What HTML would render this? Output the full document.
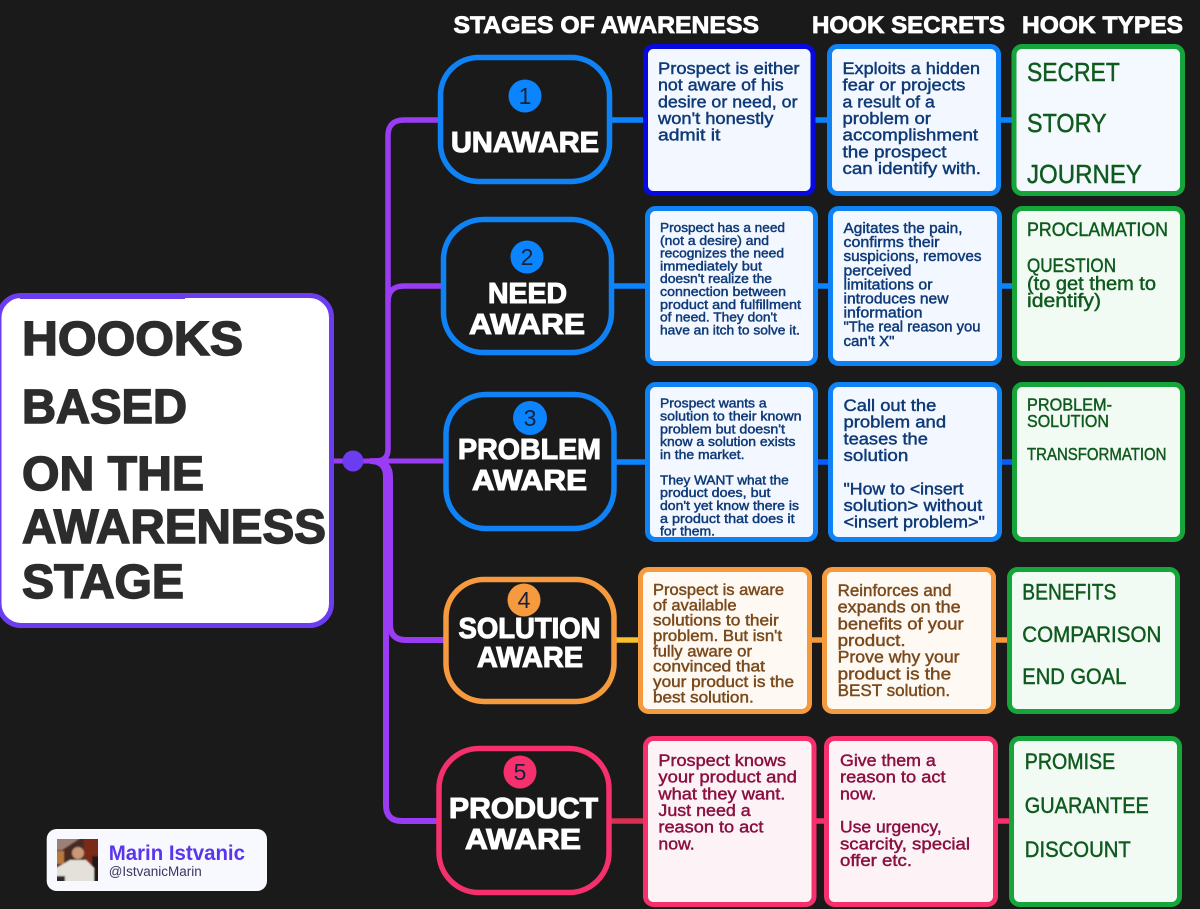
<!DOCTYPE html>
<html lang="en"><head><meta charset="utf-8"><title>Hooks based on the awareness stage</title>
<style>
html,body{margin:0;padding:0;background:#1a1a1a}
svg{display:block}
text{font-family:"Liberation Sans",sans-serif;white-space:pre}
.h{font-weight:700;fill:#fff;font-size:24px;stroke:#fff;stroke-width:.8}
.s{font-weight:700;fill:#fff;font-size:29px;stroke:#fff;stroke-width:1.1}
.m{font-weight:700;fill:#2c2c2c;font-size:48px;stroke:#2c2c2c;stroke-width:1.5}
.n{fill:#16233a;font-size:23px;text-anchor:middle}
.b{fill:#0e3a78;stroke:#0e3a78;stroke-width:.45}
.g{fill:#0f5a1e;stroke:#0f5a1e;stroke-width:.45}
.o{fill:#7a4a1c;stroke:#7a4a1c;stroke-width:.45}
.r{fill:#8a1040;stroke:#8a1040;stroke-width:.45}
.t16{font-size:17px}.t12{font-size:13px}.t14{font-size:14.8px}.t15{font-size:15.8px}
.t25{font-size:26px}.t18{font-size:19px}.t17{font-size:17.5px}.t21{font-size:22px}
</style></head><body>
<svg width="1200" height="909" viewBox="0 0 1200 909" xmlns="http://www.w3.org/2000/svg">
<defs><filter id="bl"><feGaussianBlur stdDeviation="0.8"/></filter><clipPath id="ph"><rect x="57" y="839" width="41" height="42"/></clipPath></defs>
<rect width="1200" height="909" fill="#1a1a1a"/>

<!-- trunk connectors -->
<g fill="none" stroke="#9b3cf5" stroke-width="6">
<path d="M334 461H445" stroke-width="5"/>
<path d="M376 461Q388 461 388 449V136Q388 120 404 120H440" stroke-width="5.5"/>
<path d="M388 302Q388 286 404 286H443" stroke-width="5.5"/>
<path d="M370 461Q386 461 386 477V805Q386 821 402 821H438"/>
<path d="M374 461Q390 461 390 477V624Q390 640 406 640H445"/>
</g>
<circle cx="353" cy="461" r="10.5" fill="#6c3cf0"/>

<!-- row connectors -->
<g stroke-width="5.500" fill="none">
<path d="M611 120H645M815 120H829M1000 120H1014" stroke="#0a84ff"/>
<path d="M612 286H647M816 286H830M1000 286H1014" stroke="#0a84ff"/>
<path d="M615 462H647" stroke="#0a84ff"/>
<path d="M816 462H830M1000 462H1014" stroke="#0a5cff"/>
<path d="M615 640H640" stroke="#f5c02a"/>
<path d="M810 640H824M994 640H1009" stroke="#f59a3e"/>
<path d="M610 821H645" stroke="#d83050"/>
<path d="M815 821H826M996 821H1011" stroke="#f5306c"/>
</g>

<!-- main box -->
<rect x="-1" y="295.500" width="332.500" height="330" rx="22" fill="#fff" stroke="#6c3cf0" stroke-width="5"/>
<rect x="20" y="293" width="165" height="6" fill="#6c3cf0"/>
<text class="m" x="22" y="355" textLength="221" lengthAdjust="spacingAndGlyphs">HOOOKS</text>
<text class="m" x="22" y="423" textLength="165" lengthAdjust="spacingAndGlyphs">BASED</text>
<text class="m" x="22" y="490" textLength="182" lengthAdjust="spacingAndGlyphs">ON THE</text>
<text class="m" x="22" y="543" textLength="304" lengthAdjust="spacingAndGlyphs">AWARENESS</text>
<text class="m" x="22" y="598" textLength="162" lengthAdjust="spacingAndGlyphs">STAGE</text>

<!-- headers -->
<text class="h" x="453.500" y="33" textLength="305.500" lengthAdjust="spacingAndGlyphs">STAGES OF AWARENESS</text>
<text class="h" x="812" y="33" textLength="193" lengthAdjust="spacingAndGlyphs">HOOK SECRETS</text>
<text class="h" x="1022" y="33" textLength="161" lengthAdjust="spacingAndGlyphs">HOOK TYPES</text>

<!-- stage boxes -->
<g fill="#1a1a1a" stroke-width="5.500">
<rect x="440.500" y="57.500" width="169" height="124" rx="38" stroke="#0f82f5"/>
<rect x="443.500" y="219.500" width="168" height="133" rx="40" stroke="#0f82f5"/>
<rect x="446" y="394.500" width="168" height="134" rx="40" stroke="#0f82f5"/>
<rect x="446" y="579.500" width="168" height="122" rx="38" stroke="#f59a3e"/>
<rect x="439" y="748.500" width="170" height="144" rx="40" stroke="#f5306c"/>
</g>
<circle cx="525" cy="96" r="16.500" fill="#0a84ff"/><text class="n" x="525" y="104">1</text>
<circle cx="527" cy="257" r="16.500" fill="#0a84ff"/><text class="n" x="527" y="265">2</text>
<circle cx="530" cy="418" r="17" fill="#0a84ff"/><text class="n" x="530" y="426">3</text>
<circle cx="524" cy="600" r="16.500" fill="#f59a3e"/><text class="n" x="524" y="608">4</text>
<circle cx="520" cy="772" r="16.500" fill="#f5306c"/><text class="n" x="520" y="780">5</text>

<text class="s" x="451" y="152" textLength="148" lengthAdjust="spacingAndGlyphs">UNAWARE</text>
<text class="s" x="488" y="303" textLength="79" lengthAdjust="spacingAndGlyphs">NEED</text>
<text class="s" x="469" y="334" textLength="116" lengthAdjust="spacingAndGlyphs">AWARE</text>
<text class="s" x="458" y="459" textLength="143" lengthAdjust="spacingAndGlyphs">PROBLEM</text>
<text class="s" x="472" y="490" textLength="115" lengthAdjust="spacingAndGlyphs">AWARE</text>
<text class="s" x="458.500" y="638" textLength="142" lengthAdjust="spacingAndGlyphs">SOLUTION</text>
<text class="s" x="477" y="667" textLength="106" lengthAdjust="spacingAndGlyphs">AWARE</text>
<text class="s" x="449" y="818" textLength="149" lengthAdjust="spacingAndGlyphs">PRODUCT</text>
<text class="s" x="465" y="849" textLength="116" lengthAdjust="spacingAndGlyphs">AWARE</text>

<!-- detail / secret / type boxes -->
<g stroke-width="5">
<rect x="645.500" y="46.500" width="167.500" height="147" rx="8" fill="#f3f7ff" stroke="#0808e0"/>
<rect x="829.500" y="46.500" width="169" height="147" rx="8" fill="#f3f7ff" stroke="#0f82f5"/>
<rect x="1014" y="46.500" width="168.500" height="147" rx="8" fill="#f3f9ff" stroke="#16a53a"/>

<rect x="647.500" y="208.500" width="168" height="155" rx="8" fill="#f3f7ff" stroke="#0f82f5"/>
<rect x="830.500" y="208.500" width="169" height="155" rx="8" fill="#f3f7ff" stroke="#0f82f5"/>
<rect x="1014.500" y="208.500" width="168" height="155" rx="8" fill="#f2fbf3" stroke="#16a53a"/>

<rect x="647.500" y="384.500" width="168" height="155" rx="8" fill="#f3f7ff" stroke="#0f82f5"/>
<rect x="830.500" y="384.500" width="169" height="155" rx="8" fill="#f3f7ff" stroke="#0f82f5"/>
<rect x="1014.500" y="384.500" width="168" height="155" rx="8" fill="#f2fbf3" stroke="#16a53a"/>

<rect x="640.500" y="569.500" width="169" height="142" rx="8" fill="#fff9f3" stroke="#f59a3e"/>
<rect x="824.500" y="569.500" width="169" height="142" rx="8" fill="#fff9f3" stroke="#f59a3e"/>
<rect x="1009.500" y="569.500" width="168" height="142" rx="8" fill="#f2fbf3" stroke="#16a53a"/>

<rect x="645.500" y="738.500" width="168.500" height="166" rx="8" fill="#fdf3f7" stroke="#f5306c"/>
<rect x="826.500" y="738.500" width="169" height="166" rx="8" fill="#fdf3f7" stroke="#f5306c"/>
<rect x="1011.500" y="738.500" width="168" height="166" rx="8" fill="#f2fbf3" stroke="#16a53a"/>
</g>

<!-- row 1 -->
<g class="b t16">
<text x="658" y="74" textLength="141.500" lengthAdjust="spacingAndGlyphs">Prospect is either</text>
<text x="658" y="90.700" textLength="125.700" lengthAdjust="spacingAndGlyphs">not aware of his</text>
<text x="658" y="107.300" textLength="139.500" lengthAdjust="spacingAndGlyphs">desire or need, or</text>
<text x="658" y="124" textLength="115.400" lengthAdjust="spacingAndGlyphs">won't honestly</text>
<text x="658" y="140.700" textLength="62.400" lengthAdjust="spacingAndGlyphs">admit it</text>
<text x="842.500" y="74" textLength="137.500" lengthAdjust="spacingAndGlyphs">Exploits a hidden</text>
<text x="842.500" y="90.700" textLength="122.800" lengthAdjust="spacingAndGlyphs">fear or projects</text>
<text x="842.500" y="107.300" textLength="92.300" lengthAdjust="spacingAndGlyphs">a result of a</text>
<text x="842.500" y="124" textLength="88.400" lengthAdjust="spacingAndGlyphs">problem or</text>
<text x="842.500" y="140.700" textLength="135.600" lengthAdjust="spacingAndGlyphs">accomplishment</text>
<text x="842.500" y="157.300" textLength="104" lengthAdjust="spacingAndGlyphs">the prospect</text>
<text x="842.500" y="174" textLength="138.500" lengthAdjust="spacingAndGlyphs">can identify with.</text>
</g>
<g class="g t25">
<text x="1027" y="81" textLength="92.800" lengthAdjust="spacingAndGlyphs">SECRET</text>
<text x="1027" y="132" textLength="79.600" lengthAdjust="spacingAndGlyphs">STORY</text>
<text x="1027" y="183" textLength="115" lengthAdjust="spacingAndGlyphs">JOURNEY</text>
</g>

<!-- row 2 -->
<g class="b t12">
<text x="660" y="232" textLength="125" lengthAdjust="spacingAndGlyphs">Prospect has a need</text>
<text x="660" y="244.800" textLength="109" lengthAdjust="spacingAndGlyphs">(not a desire) and</text>
<text x="660" y="257.600" textLength="124" lengthAdjust="spacingAndGlyphs">recognizes the need</text>
<text x="660" y="270.400" textLength="102" lengthAdjust="spacingAndGlyphs">immediately but</text>
<text x="660" y="283.200" textLength="112" lengthAdjust="spacingAndGlyphs">doesn't realize the</text>
<text x="660" y="296" textLength="126" lengthAdjust="spacingAndGlyphs">connection between</text>
<text x="660" y="308.800" textLength="141" lengthAdjust="spacingAndGlyphs">product and fulfillment</text>
<text x="660" y="321.600" textLength="117" lengthAdjust="spacingAndGlyphs">of need. They don't</text>
<text x="660" y="334.400" textLength="140" lengthAdjust="spacingAndGlyphs">have an itch to solve it.</text>
</g>
<g class="b t14">
<text x="843.500" y="233" textLength="119" lengthAdjust="spacingAndGlyphs">Agitates the pain,</text>
<text x="843.500" y="247.100" textLength="96" lengthAdjust="spacingAndGlyphs">confirms their</text>
<text x="843.500" y="261.200" textLength="138" lengthAdjust="spacingAndGlyphs">suspicions, removes</text>
<text x="843.500" y="275.300" textLength="68" lengthAdjust="spacingAndGlyphs">perceived</text>
<text x="843.500" y="289.400" textLength="89" lengthAdjust="spacingAndGlyphs">limitations or</text>
<text x="843.500" y="303.500" textLength="105" lengthAdjust="spacingAndGlyphs">introduces new</text>
<text x="843.500" y="317.600" textLength="79" lengthAdjust="spacingAndGlyphs">information</text>
<text x="843.500" y="331.700" textLength="137" lengthAdjust="spacingAndGlyphs">"The real reason you</text>
<text x="843.500" y="345.800" textLength="51" lengthAdjust="spacingAndGlyphs">can't X"</text>
</g>
<g class="g t18">
<text x="1027" y="236" textLength="141" lengthAdjust="spacingAndGlyphs">PROCLAMATION</text>
<text x="1027" y="272" textLength="89" lengthAdjust="spacingAndGlyphs">QUESTION</text>
<text x="1027" y="290" textLength="129" lengthAdjust="spacingAndGlyphs">(to get them to</text>
<text x="1027" y="307" textLength="74" lengthAdjust="spacingAndGlyphs">identify)</text>
</g>

<!-- row 3 -->
<g class="b t12">
<text x="660" y="407.700" textLength="106.600" lengthAdjust="spacingAndGlyphs">Prospect wants a</text>
<text x="660" y="420.500" textLength="141.500" lengthAdjust="spacingAndGlyphs">solution to their known</text>
<text x="660" y="433.300" textLength="125" lengthAdjust="spacingAndGlyphs">problem but doesn't</text>
<text x="660" y="446" textLength="135.500" lengthAdjust="spacingAndGlyphs">know a solution exists</text>
<text x="660" y="458.800" textLength="84.500" lengthAdjust="spacingAndGlyphs">in the market.</text>
<text x="660" y="484.400" textLength="128.700" lengthAdjust="spacingAndGlyphs">They WANT what the</text>
<text x="660" y="497.200" textLength="110.500" lengthAdjust="spacingAndGlyphs">product does, but</text>
<text x="660" y="510" textLength="139" lengthAdjust="spacingAndGlyphs">don't yet know there is</text>
<text x="660" y="522.800" textLength="134.600" lengthAdjust="spacingAndGlyphs">a product that does it</text>
<text x="660" y="535.600" textLength="55" lengthAdjust="spacingAndGlyphs">for them.</text>
</g>
<g class="b t16">
<text x="843.500" y="411" textLength="92.800" lengthAdjust="spacingAndGlyphs">Call out the</text>
<text x="843.500" y="427.700" textLength="102.600" lengthAdjust="spacingAndGlyphs">problem and</text>
<text x="843.500" y="444.300" textLength="84.400" lengthAdjust="spacingAndGlyphs">teases the</text>
<text x="843.500" y="461" textLength="64.800" lengthAdjust="spacingAndGlyphs">solution</text>
<text x="843.500" y="494.300" textLength="120" lengthAdjust="spacingAndGlyphs">"How to &lt;insert</text>
<text x="843.500" y="511" textLength="138.800" lengthAdjust="spacingAndGlyphs">solution&gt; without</text>
<text x="843.500" y="527.700" textLength="141.400" lengthAdjust="spacingAndGlyphs">&lt;insert problem&gt;"</text>
</g>
<g class="g t17">
<text x="1027" y="410.700" textLength="85" lengthAdjust="spacingAndGlyphs">PROBLEM-</text>
<text x="1027" y="427" textLength="82" lengthAdjust="spacingAndGlyphs">SOLUTION</text>
<text x="1027" y="460" textLength="139.500" lengthAdjust="spacingAndGlyphs">TRANSFORMATION</text>
</g>

<!-- row 4 -->
<g class="o t15">
<text x="653" y="595" textLength="131" lengthAdjust="spacingAndGlyphs">Prospect is aware</text>
<text x="653" y="610.400" textLength="83.500" lengthAdjust="spacingAndGlyphs">of available</text>
<text x="653" y="625.700" textLength="125.700" lengthAdjust="spacingAndGlyphs">solutions to their</text>
<text x="653" y="641" textLength="129" lengthAdjust="spacingAndGlyphs">problem. But isn't</text>
<text x="653" y="656.400" textLength="99" lengthAdjust="spacingAndGlyphs">fully aware or</text>
<text x="653" y="671.700" textLength="112" lengthAdjust="spacingAndGlyphs">convinced that</text>
<text x="653" y="687.100" textLength="141" lengthAdjust="spacingAndGlyphs">your product is the</text>
<text x="653" y="702.400" textLength="100.700" lengthAdjust="spacingAndGlyphs">best solution.</text>
</g>
<g class="o t16">
<text x="837.600" y="596" textLength="114" lengthAdjust="spacingAndGlyphs">Reinforces and</text>
<text x="837.600" y="612.700" textLength="123" lengthAdjust="spacingAndGlyphs">expands on the</text>
<text x="837.600" y="629.300" textLength="126" lengthAdjust="spacingAndGlyphs">benefits of your</text>
<text x="837.600" y="646" textLength="68" lengthAdjust="spacingAndGlyphs">product.</text>
<text x="837.600" y="662.700" textLength="122" lengthAdjust="spacingAndGlyphs">Prove why your</text>
<text x="837.600" y="679.300" textLength="113.500" lengthAdjust="spacingAndGlyphs">product is the</text>
<text x="837.600" y="696" textLength="112.500" lengthAdjust="spacingAndGlyphs">BEST solution.</text>
</g>
<g class="g t21">
<text x="1022.300" y="599.300" textLength="94" lengthAdjust="spacingAndGlyphs">BENEFITS</text>
<text x="1022.300" y="642" textLength="139" lengthAdjust="spacingAndGlyphs">COMPARISON</text>
<text x="1022.300" y="684" textLength="104" lengthAdjust="spacingAndGlyphs">END GOAL</text>
</g>

<!-- row 5 -->
<g class="r t16">
<text x="658.400" y="766" textLength="127.700" lengthAdjust="spacingAndGlyphs">Prospect knows</text>
<text x="658.400" y="782.700" textLength="138.500" lengthAdjust="spacingAndGlyphs">your product and</text>
<text x="658.400" y="799.300" textLength="127" lengthAdjust="spacingAndGlyphs">what they want.</text>
<text x="658.400" y="816" textLength="92.300" lengthAdjust="spacingAndGlyphs">Just need a</text>
<text x="658.400" y="832.700" textLength="105" lengthAdjust="spacingAndGlyphs">reason to act</text>
<text x="658.400" y="849.300" textLength="36.300" lengthAdjust="spacingAndGlyphs">now.</text>
<text x="840" y="766" textLength="95.800" lengthAdjust="spacingAndGlyphs">Give them a</text>
<text x="840" y="782.700" textLength="105.600" lengthAdjust="spacingAndGlyphs">reason to act</text>
<text x="840" y="799.300" textLength="36.300" lengthAdjust="spacingAndGlyphs">now.</text>
<text x="840" y="832.700" textLength="101.700" lengthAdjust="spacingAndGlyphs">Use urgency,</text>
<text x="840" y="849.300" textLength="130" lengthAdjust="spacingAndGlyphs">scarcity, special</text>
<text x="840" y="866" textLength="72" lengthAdjust="spacingAndGlyphs">offer etc.</text>
</g>
<g class="g t21">
<text x="1024.800" y="769" textLength="90.400" lengthAdjust="spacingAndGlyphs">PROMISE</text>
<text x="1024.800" y="813" textLength="124" lengthAdjust="spacingAndGlyphs">GUARANTEE</text>
<text x="1024.800" y="857" textLength="106" lengthAdjust="spacingAndGlyphs">DISCOUNT</text>
</g>

<!-- author card -->
<rect x="46.700" y="829" width="220.300" height="62" rx="10" fill="#f8f8ff"/>
<g clip-path="url(#ph)"><g filter="url(#bl)">
<rect x="55" y="837" width="45" height="46" fill="#4a2c24"/>
<path d="M55 837H82L62 850H55Z" fill="#9a8078"/>
<rect x="84" y="837" width="16" height="46" fill="#7a2c14"/>
<rect x="92" y="856" width="8" height="27" fill="#221412"/>
<rect x="55" y="851" width="9" height="13" fill="#b87840"/>
<circle cx="78" cy="853" r="6" fill="#c89878"/>
<path d="M56 883V868L70 860H86L94 868V883Z" fill="#e4e0da"/>
<rect x="55" y="876" width="10" height="7" fill="#2a2a2a"/>
</g></g>
<text x="108.700" y="860" font-size="21" font-weight="700" fill="#5a35ee" textLength="136.300" lengthAdjust="spacingAndGlyphs">Marin Istvanic</text>
<text x="108.700" y="876" font-size="13.500" fill="#3a3560" textLength="93" lengthAdjust="spacingAndGlyphs">@IstvanicMarin</text>
</svg>
</body></html>
